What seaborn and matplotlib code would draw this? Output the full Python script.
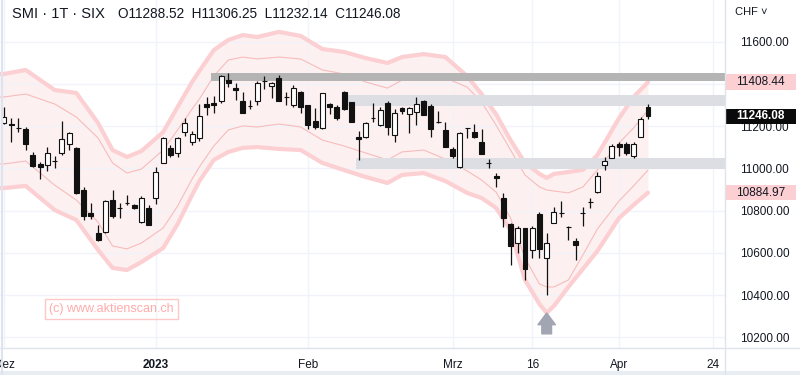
import numpy as np
import pandas as pd
import seaborn as sns
import matplotlib.pyplot as plt
from matplotlib.transforms import blended_transform_factory
from matplotlib.patches import Rectangle
from matplotlib.lines import Line2D

# Tageskerzen SMI (Dez 2022 - Apr 2023), Index 0 = 1. Dez
opens = [11215, 11210, 11193, 11186, 11063, 11021, 11016, 11036, 11073, 11115,
         11097, 10898, 10789, 10694, 10699, 10850, 10814, 10837, 10827, 10746,
         10813, 10860, 11026, 11097, 11073, 11172, 11125, 11144, 11305, 11310,
         11319, 11418, 11380, 11319, 11296, 11319, 11415, 11390, 11428, 11339,
         11300, 11362, 11300, 11224, 11191, 11305, 11291, 11362, 11314, 11149,
         11149, 11240, 11205, 11310, 11158, 11286, 11257, 11267, 11319, 11295,
         11221, 11182, 11092, 11007, 11192, 11172, 11125, 11027, 10964, 10860,
         10737, 10647, 10718, 10614, 10784, 10576, 10742, 10790, 10724, 10656,
         10790, 10842, 10888, 11016, 11049, 11115, 11115, 11059, 11149, 11288.52]
highs = [11291, 11239, 11239, 11196, 11078, 11030, 11101, 11059, 11224, 11172,
         11099, 10912, 10836, 10732, 10850, 10898, 10836, 10874, 10832, 10869,
         10827, 11007, 11149, 11111, 11149, 11239, 11177, 11305, 11338, 11343,
         11442, 11452, 11404, 11362, 11324, 11414, 11437, 11409, 11442, 11362,
         11395, 11364, 11302, 11286, 11359, 11310, 11300, 11364, 11316, 11177,
         11220, 11310, 11291, 11319, 11281, 11291, 11291, 11338, 11324, 11305,
         11272, 11220, 11101, 11172, 11193, 11210, 11186, 11044, 10978, 10884,
         10742, 10727, 10720, 10727, 10794, 10694, 10817, 10846, 10727, 10671,
         10817, 10860, 10983, 11054, 11115, 11125, 11125, 11125, 11243, 11306.25]
lows = [11212, 11125, 11172, 11087, 11007, 10950, 10988, 11002, 11063, 11087,
        10879, 10756, 10761, 10658, 10694, 10765, 10765, 10827, 10808, 10742,
        10730, 10832, 11024, 11054, 11054, 11153, 11111, 11130, 11253, 11262,
        11310, 11385, 11324, 11260, 11281, 11300, 11376, 11333, 11317, 11300,
        11291, 11262, 11186, 11186, 11186, 11257, 11229, 11276, 11218, 11040,
        11144, 11220, 11201, 11158, 11125, 11257, 11168, 11205, 11251, 11149,
        11215, 11099, 11049, 11002, 11144, 11144, 11066, 11002, 10912, 10723,
        10543, 10600, 10472, 10576, 10576, 10401, 10740, 10770, 10661, 10566,
        10727, 10813, 10884, 10992, 11047, 11059, 11063, 11049, 11147, 11232.14]
closes = [11243, 11206, 11191, 11115, 11011, 11007, 11073, 11035, 11139, 11168,
          10884, 10775, 10775, 10661, 10846, 10775, 10813, 10836, 10813, 10860,
          10732, 10983, 11144, 11063, 11144, 11215, 11163, 11248, 11291, 11300,
          11437, 11404, 11371, 11262, 11295, 11404, 11414, 11404, 11319, 11338,
          11380, 11291, 11205, 11196, 11357, 11291, 11239, 11281, 11220, 11139,
          11215, 11239, 11276, 11196, 11262, 11272, 11286, 11305, 11253, 11186,
          11220, 11101, 11059, 11168, 11191, 11149, 11068, 11026, 10955, 10765,
          10633, 10718, 10524, 10718, 10619, 10647, 10794, 10789, 10723, 10637,
          10789, 10841, 10964, 11035, 11106, 11101, 11073, 11115, 11234, 11246.08]

# Band (Huellkurve) an Stuetzstellen
band_idx = [-1, 0, 3, 7, 10, 13, 15, 17, 19, 22, 24, 26, 27, 29, 31, 33, 35, 38, 41, 44,
            47, 50, 53, 55, 58, 61, 64, 66, 68, 70, 72, 74, 75, 76, 78, 80, 82, 85, 87, 89]
outer_upper = [11447, 11447, 11466, 11371, 11357, 11215, 11087, 11054, 11082, 11172,
               11291, 11409, 11461, 11560, 11608, 11631, 11622, 11646, 11627, 11565,
               11551, 11522, 11499, 11527, 11541, 11527, 11437, 11352, 11257, 11134,
               11026, 10974, 10955, 10974, 10983, 10993, 11063, 11238, 11338, 11408.44]
inner_upper = [11338, 11338, 11352, 11305, 11243, 11144, 11026, 10978, 10997, 11087,
               11182, 11281, 11328, 11437, 11513, 11527, 11518, 11527, 11518, 11466,
               11447, 11409, 11380, 11418, 11437, 11428, 11385, 11314, 11205, 11087,
               10969, 10912, 10898, 10893, 10884, 10912, 10992, 11120, 11191, 11276]
inner_lower = [11021, 11021, 11035, 10921, 10850, 10746, 10633, 10619, 10647, 10718,
               10822, 10950, 11007, 11106, 11182, 11201, 11196, 11210, 11196, 11134,
               11106, 11073, 11040, 11078, 11087, 11044, 10988, 10945, 10888, 10765,
               10576, 10453, 10439, 10439, 10472, 10590, 10713, 10846, 10917, 10992]
outer_lower = [10907, 10907, 10917, 10803, 10756, 10614, 10529, 10519, 10557, 10623,
               10737, 10874, 10940, 11040, 11078, 11097, 11101, 11092, 11087, 11026,
               10992, 10959, 10931, 10969, 10978, 10940, 10884, 10860, 10813, 10708,
               10472, 10358, 10316, 10349, 10439, 10524, 10609, 10765, 10827, 10884.97]

# Zonen (Widerstand / Unterstuetzung)
zone_start = [28.6, 47.6, 48.6]
zone_lo = [11414, 11295, 10997]
zone_hi = [11452, 11348, 11049]
zone_col = ['#b4b4b4', '#dddee3', '#dddee3']

tick_idx = [0, 21, 42, 62, 73, 85, 98]
tick_lab = ['Dez', '2023', 'Feb', 'Mrz', '16', 'Apr', '24']
price_ticks = [10200, 10400, 10600, 10800, 11000, 11200, 11400, 11600]

sns.set_theme(style='white')
plt.rcParams['font.family'] = ['Liberation Sans', 'DejaVu Sans']
txt = '#131722'

df = pd.DataFrame({'o': opens, 'h': highs, 'l': lows, 'c': closes})
df['i'] = np.arange(len(df))
df['up'] = df['c'] >= df['o']

fig = plt.figure(figsize=(8, 3.75), dpi=100)
ax = fig.add_axes([0, 27 / 375, 725 / 800, 348 / 375])

# Band
ax.fill_between(band_idx, outer_lower, outer_upper, color='#fdf0f0', lw=0, zorder=0.5)
for vals, w, col in [(outer_upper, 3, '#fccfd2'), (outer_lower, 3, '#fccfd2'),
                     (inner_upper, 0.8, '#f7bcbc'), (inner_lower, 0.8, '#f7bcbc')]:
    sns.lineplot(x=band_idx, y=vals, ax=ax, color=col, lw=w, sort=False, zorder=1)

# Zonen
for s, lo, hi, col in zip(zone_start, zone_lo, zone_hi, zone_col):
    ax.fill_between([s, 110], lo, hi, color=col, lw=0, zorder=1.2)

# Kerzen
ax.vlines(df['i'], df['l'], df['h'], color='#111111', lw=0.9, zorder=2)
body_lo = np.minimum(df['o'], df['c'])
body_h = (df['c'] - df['o']).abs()
ax.bar(df['i'], body_h, bottom=body_lo, width=0.68,
       color=np.where(df['up'], 'white', '#111111'), edgecolor='#111111', lw=0.8, zorder=3)

# Pfeil unter dem Tief
low_i = int(np.argmin(lows))
ax.annotate('', xy=(low_i, lows[low_i]), xytext=(0, -28), textcoords='offset points',
            arrowprops=dict(arrowstyle='simple,head_length=0.6,head_width=0.9,tail_width=0.5',
                            mutation_scale=14, color='#a2a6b2', shrinkA=0, shrinkB=13))

ax.set_xlim(-0.55, 99.64)
ax.set_ylim(10150, 11797)

ax.set_xticks(tick_idx)
ax.set_xticklabels(tick_lab)
ax.get_xticklabels()[1].set_fontweight('bold')
ax.tick_params(axis='x', length=0, pad=8, labelsize=8.5, labelcolor=txt)

# 11400 liegt unter dem Schild des oberen Bandes
ax.yaxis.tick_right()
ax.set_yticks(price_ticks)
ax.set_yticklabels(['' if v == 11400 else f'{v:.2f}' for v in price_ticks])
ax.tick_params(axis='y', length=0, pad=11, labelsize=8.5, labelcolor=txt)

ax.grid(True, color='#f0f3fa', lw=1)
ax.set_axisbelow(True)
for sp in ax.spines.values():
    sp.set_visible(False)

# Preisschilder an der Achse
tr = blended_transform_factory(ax.transAxes, ax.transData)
for val, fc, tc, wt in [(outer_upper[-1], '#fccfd2', txt, 'normal'),
                        (closes[-1], '#0a0a0a', 'white', 'bold'),
                        (outer_lower[-1], '#fccfd2', txt, 'normal')]:
    ax.add_patch(Rectangle((1.0014, val - 36), 0.097, 72, transform=tr, facecolor=fc,
                           edgecolor='none', clip_on=False, zorder=5))
    ax.text(1.0152, val, f'{val:.2f}', transform=tr, ha='left', va='center',
            fontsize=8.5, color=tc, fontweight=wt, clip_on=False, zorder=6)

# Kopfzeile
fig.text(12 / 800, 1 - 14 / 375, 'SMI · 1T · SIX', fontsize=10.5, color=txt, va='center')
fig.text(118 / 800, 1 - 14 / 375,
         f'O{opens[-1]:.2f}  H{highs[-1]:.2f}  L{lows[-1]:.2f}  C{closes[-1]:.2f}',
         fontsize=9.8, color=txt, va='center')
fig.text(735 / 800, 1 - 12 / 375, 'CHF ˅', fontsize=8, color=txt, va='center')

# Wasserzeichen
ax.text(0.0676, 0.112, '(c) www.aktienscan.ch', transform=ax.transAxes, fontsize=9,
        color='#ffabab', va='center', ha='left',
        bbox=dict(boxstyle='square,pad=0.33', fc='none', ec='#ffc8c8', lw=1))

# Rahmenlinien
fig.add_artist(Line2D([725 / 800, 725 / 800], [0, 1], color='#e0e3eb', lw=1))
fig.add_artist(Line2D([0, 1], [27 / 375, 27 / 375], color='#e0e3eb', lw=1))
fig.add_artist(Line2D([2 / 800, 2 / 800], [0, 1], color='#dfe3ee', lw=1.5))
fig.add_artist(Rectangle((0, 0), 1, 4 / 375, transform=fig.transFigure,
                         color='#e8ecf3', lw=0))

plt.savefig('out.png', dpi=100)
